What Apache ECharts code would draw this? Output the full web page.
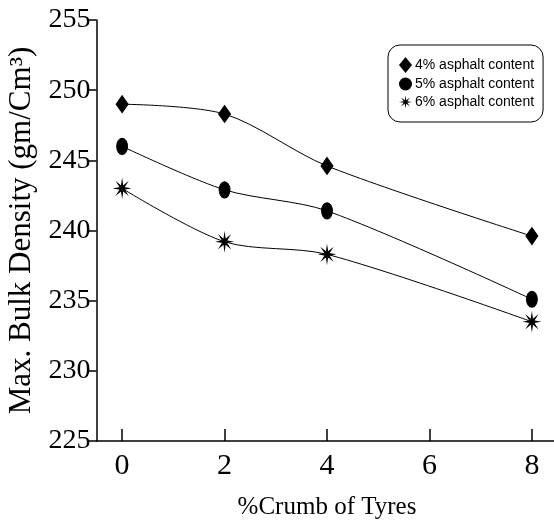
<!DOCTYPE html>
<html><head><meta charset="utf-8">
<script src="https://cdn.jsdelivr.net/npm/echarts@6/dist/echarts.min.js"></script>
<style>html,body{margin:0;padding:0;background:#fff}#c{width:554px;height:520px}</style>
</head><body><div id="c"></div>
<script>
var xValues = [0, 2, 4, 8];
var s4 = [249.0, 248.3, 244.6, 239.6];
var s5 = [246.0, 242.9, 241.4, 235.1];
var s6 = [243.0, 239.2, 238.3, 233.5];
var seriesNames = ['4% asphalt content', '5% asphalt content', '6% asphalt content'];
var xTicks = [0, 2, 4, 6, 8];
var yTicks = [225, 230, 235, 240, 245, 250, 255];

function starPath(n, rIn) {
  var p = [];
  for (var i = 0; i < 2 * n; i++) {
    var a = Math.PI * i / n - Math.PI / 2;
    var r = (i % 2 === 0) ? 1 : rIn;
    p.push((i === 0 ? 'M' : 'L') + (50 + 50 * r * Math.cos(a)).toFixed(2) + ' ' + (50 + 50 * r * Math.sin(a)).toFixed(2));
  }
  return 'path://' + p.join(' ') + ' Z';
}
var star = starPath(8, 0.3);

function pts(arr) { return xValues.map(function (x, i) { return [x, arr[i]]; }); }
var symbols = ['diamond', 'circle', star];
var sizes = [[12, 17], [11, 16], [13, 15]];
var data = [s4, s5, s6];

var chart = echarts.init(document.getElementById('c'));
chart.setOption({
  animation: false,
  backgroundColor: '#fff',
  grid: { left: 96.5, top: 20, width: 461, height: 421, containLabel: false, outerBoundsMode: 'none' },
  legend: {
    orient: 'vertical', left: 388, top: 45,
    backgroundColor: '#fff', borderColor: '#000', borderWidth: 1, borderRadius: 12,
    padding: [12, 9, 13, 11], itemGap: 4, itemWidth: 13, itemHeight: 16,
    textStyle: { fontFamily: 'Liberation Sans Narrow, Liberation Sans, Arial', fontSize: 14, color: '#000', padding: [0, 0, 0, -2] },
    data: seriesNames.map(function (n, i) { return { name: n, icon: symbols[i] }; })
  },
  xAxis: {
    type: 'value', min: -0.5, max: 8.5, interval: 2,
    name: '%Crumb of Tyres', nameLocation: 'middle', nameGap: 54,
    nameTextStyle: { fontFamily: 'Liberation Serif', fontSize: 25, color: '#000' },
    axisLine: { show: true, onZero: false, lineStyle: { color: '#000', width: 1.5 } },
    axisTick: { show: true, inside: true, length: 12, lineStyle: { color: '#000', width: 1.5 },
      customValues: xTicks },
    axisLabel: { fontFamily: 'Liberation Serif', fontSize: 30, color: '#000', margin: 10,
      customValues: xTicks },
    splitLine: { show: false }
  },
  yAxis: {
    type: 'value', min: 225, max: 255, interval: 5,
    name: 'Max. Bulk Density (gm/Cm³)', nameLocation: 'middle', nameGap: 56, nameRotate: 90,
    nameTextStyle: { fontFamily: 'Liberation Serif', fontSize: 31, color: '#000' },
    axisLine: { show: true, onZero: false, lineStyle: { color: '#000', width: 1.5 } },
    axisTick: { show: true, inside: false, length: 9, lineStyle: { color: '#000', width: 1.5 } },
    axisLabel: { fontFamily: 'Liberation Serif', fontSize: 28, color: '#000', margin: 6 },
    splitLine: { show: false }
  },
  series: data.map(function (arr, i) {
    return {
      name: seriesNames[i], type: 'line', data: pts(arr), smooth: 0.3,
      symbol: symbols[i], symbolSize: sizes[i],
      lineStyle: { color: '#000', width: 1 },
      itemStyle: { color: '#000', borderColor: '#000' },
      z: 3
    };
  })
});
</script></body></html>
